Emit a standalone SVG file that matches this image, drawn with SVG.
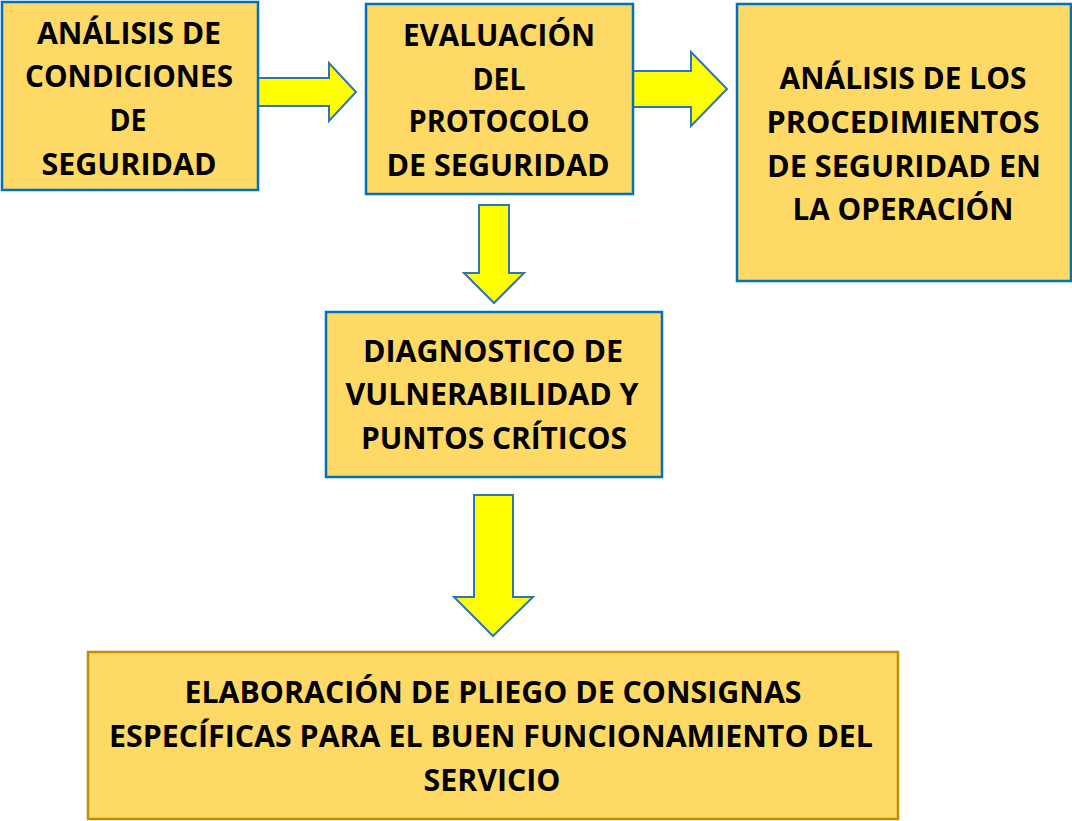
<svg xmlns="http://www.w3.org/2000/svg" width="1072" height="821" viewBox="0 0 1072 821">
<style>
.box{fill:#FFD966;stroke:#0070C0;stroke-width:2.5}
.box5{fill:#FFD966;stroke:#BF9000;stroke-width:2.5}
.arr{fill:#FFFF00;stroke:#2E75B6;stroke-width:2;stroke-linejoin:miter}
text{font-family:"Open Sans","Liberation Sans",sans-serif;font-weight:700;font-size:30px;fill:#000;text-anchor:middle}
</style>
<rect width="1072" height="821" fill="#FFFFFF"/>
<g id="connectors">
<polygon class="arr" points="258,78 329,78 329,63 356,92 329,121 329,106 258,106"/>
<polygon class="arr" points="633,71 691,71 691,52 727,89 691,126 691,107 633,107"/>
<polygon class="arr" points="479,205 509,205 509,273 524,273 494,303 464,273 479,273"/>
<polygon class="arr" points="474,495 513,495 513,597 533,597 493,636 454,597 474,597"/>
</g>
<g id="node1">
<rect class="box" x="2" y="2" width="256" height="188"/>
<text x="129" y="44" textLength="184" lengthAdjust="spacingAndGlyphs">ANÁLISIS DE</text>
<text x="129" y="87" textLength="208" lengthAdjust="spacingAndGlyphs">CONDICIONES</text>
<text x="128" y="131" textLength="37" lengthAdjust="spacingAndGlyphs">DE</text>
<text x="129" y="175" textLength="175" lengthAdjust="spacingAndGlyphs">SEGURIDAD</text>
</g>
<g id="node2">
<rect class="box" x="366" y="4" width="267" height="190"/>
<text x="499" y="46" textLength="192" lengthAdjust="spacingAndGlyphs">EVALUACIÓN</text>
<text x="499" y="90" textLength="53" lengthAdjust="spacingAndGlyphs">DEL</text>
<text x="499" y="132" textLength="181" lengthAdjust="spacingAndGlyphs">PROTOCOLO</text>
<text x="498" y="176" textLength="223" lengthAdjust="spacingAndGlyphs">DE SEGURIDAD</text>
</g>
<g id="node3">
<rect class="box" x="737" y="4" width="334" height="277"/>
<text x="903" y="89" textLength="247" lengthAdjust="spacingAndGlyphs">ANÁLISIS DE LOS</text>
<text x="903" y="133" textLength="273" lengthAdjust="spacingAndGlyphs">PROCEDIMIENTOS</text>
<text x="904" y="177" textLength="274" lengthAdjust="spacingAndGlyphs">DE SEGURIDAD EN</text>
<text x="903" y="220" textLength="221" lengthAdjust="spacingAndGlyphs">LA OPERACIÓN</text>
</g>
<g id="node4">
<rect class="box" x="326" y="312" width="336" height="165"/>
<text x="493" y="362" textLength="260" lengthAdjust="spacingAndGlyphs">DIAGNOSTICO DE</text>
<text x="492" y="405" textLength="293" lengthAdjust="spacingAndGlyphs">VULNERABILIDAD Y</text>
<text x="494" y="449" textLength="266" lengthAdjust="spacingAndGlyphs">PUNTOS CRÍTICOS</text>
</g>
<g id="node5">
<rect class="box5" x="88" y="652" width="810" height="167"/>
<text x="493" y="703" textLength="617" lengthAdjust="spacingAndGlyphs">ELABORACIÓN DE PLIEGO DE CONSIGNAS</text>
<text x="491" y="747" textLength="764" lengthAdjust="spacingAndGlyphs">ESPECÍFICAS PARA EL BUEN FUNCIONAMIENTO DEL</text>
<text x="492" y="791" textLength="137" lengthAdjust="spacingAndGlyphs">SERVICIO</text>
</g>
</svg>
